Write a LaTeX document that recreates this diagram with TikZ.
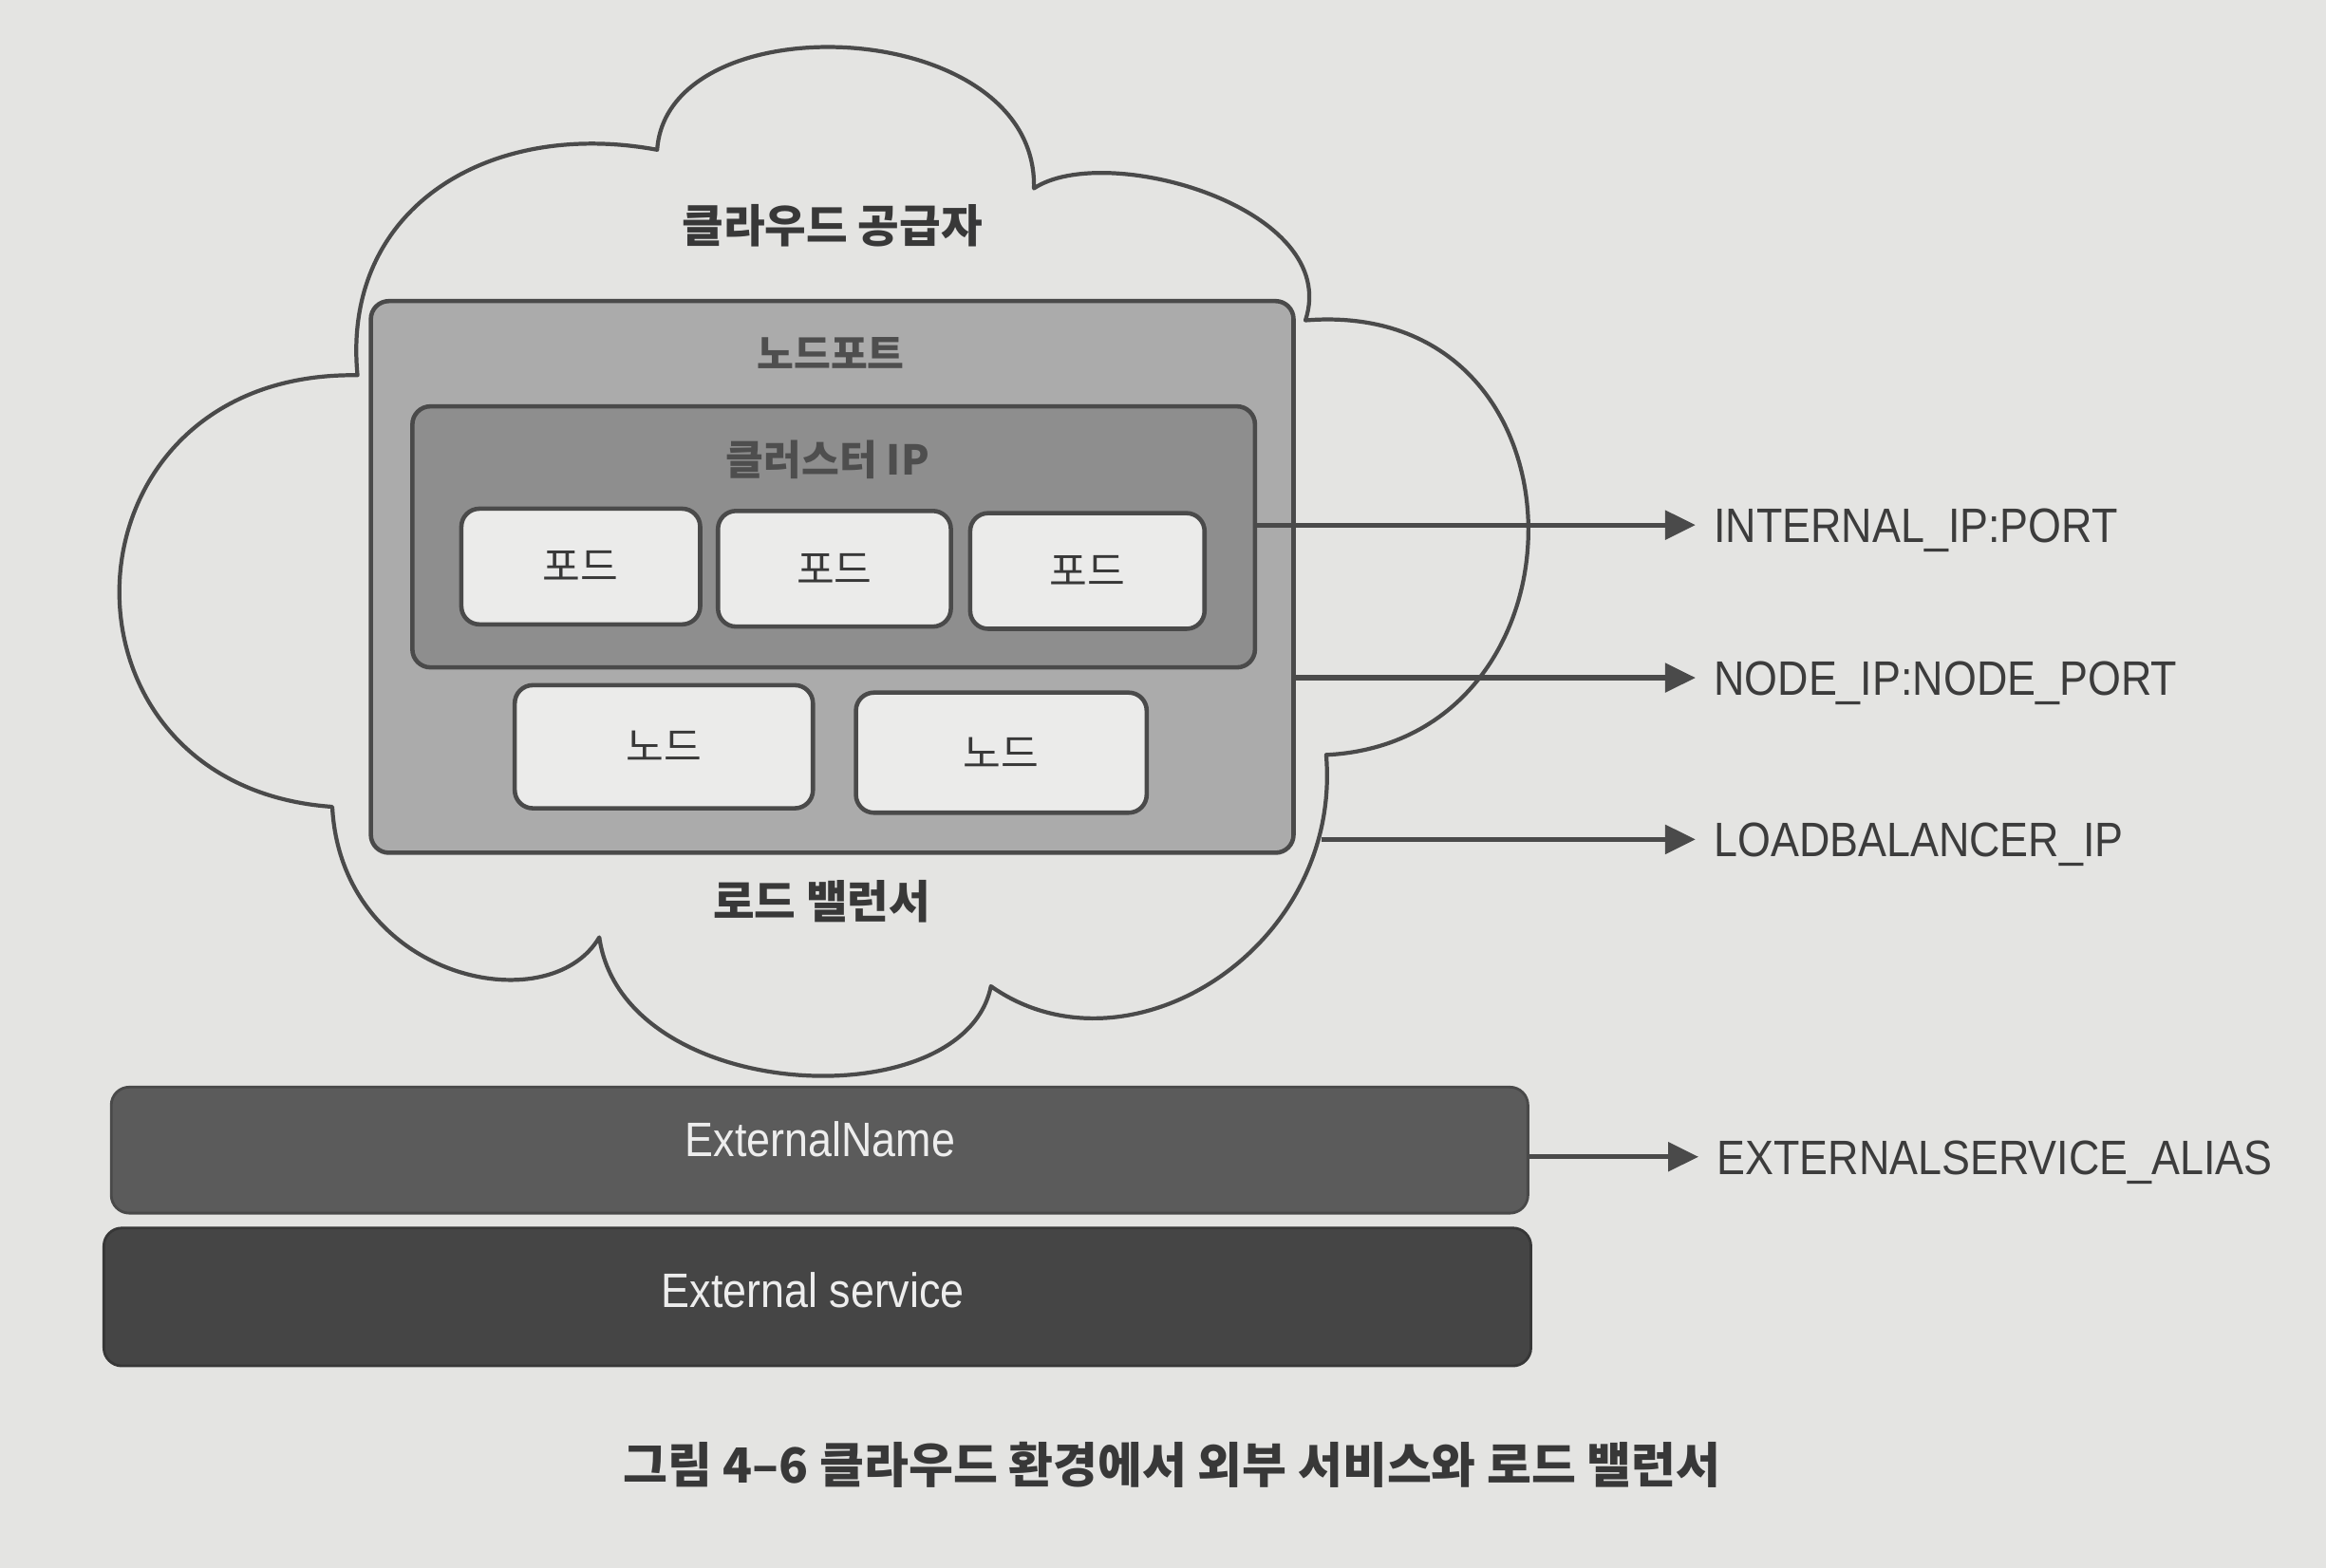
\documentclass[tikz,border=0pt]{standalone}
\usepackage{fontspec}
\setmainfont{Liberation Sans}
\newfontfamily\krfont{Noto Sans CJK KR}
\newfontfamily\labfont{Liberation Sans}[FakeStretch=0.88]
\usetikzlibrary{arrows.meta}
\newcommand\dpx{0.015625cm}
\definecolor{bg}{HTML}{E4E4E2}
\definecolor{edgec}{HTML}{4A4A4A}
\definecolor{npfill}{HTML}{ABABAB}
\definecolor{cipfill}{HTML}{8E8E8E}
\definecolor{podfill}{HTML}{EBEBEA}
\definecolor{enfill}{HTML}{5B5B5B}
\definecolor{esfill}{HTML}{454545}
\definecolor{txtc}{HTML}{383838}
\definecolor{cipt}{HTML}{4E4E4E}
\definecolor{labc}{HTML}{3C3C3C}
\definecolor{arrc}{HTML}{4A4A4A}
\definecolor{bartc}{HTML}{EDEDED}
\begin{document}
\begin{tikzpicture}[x=0.015625cm,y=-0.015625cm,line join=round,
  box/.style={draw=edgec,line width=1.3pt,rounded corners=0.19cm,inner sep=0pt},
  kr/.style={font=\krfont\fontsize{12.3}{14}\selectfont,text=txtc},
  krb/.style={font=\krfont\bfseries\fontsize{13.5}{16}\selectfont,text=txtc},
  outlab/.style={anchor=west,inner xsep=0.1875cm,inner ysep=0pt,text height=10.4pt,text depth=0pt,
    font=\labfont\fontsize{14.5}{17}\selectfont,text=labc},
  arr/.style={draw=arrc,line width=1.5pt,-{Triangle[length=0.32cm,width=0.30cm]}},
  bartext/.style={font=\labfont\fontsize{14.5}{17}\selectfont,text=bartc},
  cloudline/.style={draw=edgec,line width=1.2pt}
]
\path[use as bounding box,fill=bg] (0,0) rectangle (1568,1057);

% cloud
\draw[cloudline] (443,101) .. controls (450,0) and (700,10) .. (697,127)
 .. controls (745,95) and (905,140) .. (880,216)
 .. controls (1078,200) and (1078,500) .. (894,509)
 .. controls (905,640) and (760,730) .. (668,665)
 .. controls (650,755) and (420,745) .. (404,632)
 .. controls (370,690) and (230,660) .. (224,544)
 .. controls (25,530) and (35,250) .. (241,253)
 .. controls (230,140) and (330,80) .. (443,101) -- cycle;
\node[krb] (cloudlab) at (561,152) {클라우드 공급자};

% node port
\node[box,fill=npfill,minimum width=622*\dpx,minimum height=372*\dpx] (np) at (561,389) {};
\node[kr,font=\krfont\bfseries\fontsize{12}{14}\selectfont,text=cipt] (nplab) at (560,238) {노드포트};
% cluster IP
\node[box,fill=cipfill,minimum width=568*\dpx,minimum height=176*\dpx] (cip) at (562,362) {};
\node[kr,text=cipt,font=\krfont\bfseries\fontsize{12.3}{14}\selectfont] (ciplab) at (558,310) {클러스터 IP};
% pods
\node[box,fill=podfill,kr,minimum width=161*\dpx,minimum height=78*\dpx] (pod1) at (391.5,382) {포드};
\node[box,fill=podfill,kr,minimum width=157*\dpx,minimum height=78*\dpx] (pod2) at (562.5,383.5) {포드};
\node[box,fill=podfill,kr,minimum width=158*\dpx,minimum height=78*\dpx] (pod3) at (733,385) {포드};
% nodes
\node[box,fill=podfill,kr,minimum width=201*\dpx,minimum height=83*\dpx] (node1) at (447.5,503.5) {노드};
\node[box,fill=podfill,kr,minimum width=196*\dpx,minimum height=81*\dpx] (node2) at (675,507.5) {노드};

\node[krb] (lblab) at (554,608) {로드 밸런서};

% bars
\node[box,draw=enfill!80!black,line width=0.8pt,fill=enfill,minimum width=955*\dpx,minimum height=85*\dpx] (en) at (552.5,775.5) {};
\node[bartext] (entext) at (553,768) {ExternalName};
\node[box,draw=esfill!80!black,line width=0.8pt,fill=esfill,minimum width=962*\dpx,minimum height=93*\dpx] (es) at (551,874.5) {};
\node[bartext] (estext) at (548,870) {External service};

% outer labels
\node[outlab] (l1) at (1143,354) {INTERNAL\_IP:PORT};
\node[outlab] (l2) at (1143,457) {NODE\_IP:NODE\_PORT};
\node[outlab] (l3) at (1143,566) {LOADBALANCER\_IP};
\node[outlab] (l4) at (1145,780) {EXTERNALSERVICE\_ALIAS};

% arrows
\coordinate (lbstart) at (891,566);
\draw[arr] (cip.east |- l1.west) -- (l1.west);
\draw[arr] (np.east |- l2.west) -- (l2.west);
\draw[arr] (lbstart) -- (l3.west);
\draw[arr] (en.east |- l4.west) -- (l4.west);

% caption
\node[font=\krfont\bfseries\fontsize{14.5}{17}\selectfont,text=txtc] (cap) at (790,988) {그림 4–6 클라우드 환경에서 외부 서비스와 로드 밸런서};
\end{tikzpicture}
\end{document}
